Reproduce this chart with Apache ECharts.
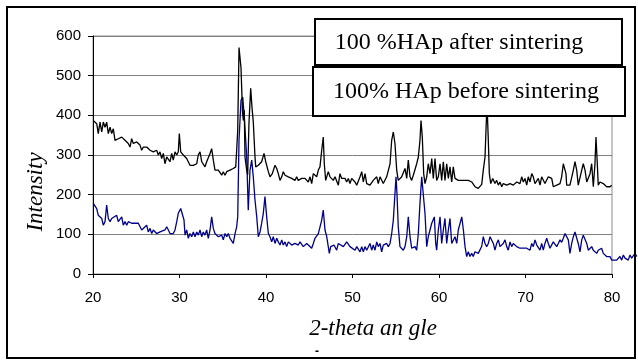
<!DOCTYPE html>
<html>
<head>
<meta charset="utf-8">
<script src="https://cdn.jsdelivr.net/npm/echarts@6/dist/echarts.min.js"></script>
<style>
html,body{margin:0;padding:0;background:#fff;}
#chart{width:638px;height:361px;}
</style>
</head>
<body>
<div id="chart"></div>
<script>
// ---- data (2-theta angle, intensity) ----
const afterAngle = [20.03,20.43,20.61,20.81,21.01,21.19,21.39,21.58,21.77,21.97,22.16,22.35,22.54,22.92,23.32,23.70,23.90,24.08,24.28,24.47,24.66,25.05,25.43,25.63,25.82,26.21,26.59,26.97,27.36,27.55,27.75,27.94,28.13,28.32,28.52,28.90,29.10,29.28,29.48,29.68,29.86,29.98,30.14,30.44,30.83,31.21,31.60,31.99,32.17,32.37,32.57,32.75,32.95,33.14,33.53,33.72,33.91,34.10,34.30,34.49,34.88,35.06,35.26,35.46,35.84,36.22,36.50,36.61,36.73,36.88,37.11,37.28,37.38,37.49,37.57,37.77,37.88,38.03,38.23,38.38,38.53,38.73,38.81,39.11,39.50,39.77,39.97,40.27,40.46,40.73,41.04,41.24,41.42,41.62,41.82,42.00,42.20,42.58,42.97,43.35,43.55,43.73,44.13,44.51,44.89,45.09,45.28,45.47,45.66,45.86,46.05,46.24,46.44,46.62,46.74,46.90,47.09,47.20,47.40,47.60,47.78,47.98,48.36,48.55,48.75,49.13,49.33,49.52,49.71,49.91,50.29,50.49,50.87,51.07,51.25,51.45,51.64,52.02,52.40,52.80,52.98,53.18,53.56,53.95,54.14,54.34,54.53,54.72,54.91,55.11,55.29,55.49,55.69,55.87,56.07,56.27,56.45,56.65,56.84,57.03,57.23,57.42,57.61,57.80,57.92,58.07,58.23,58.38,58.58,58.76,58.96,59.16,59.34,59.54,59.73,59.92,60.12,60.31,60.50,60.69,60.89,61.08,61.27,61.47,61.65,61.85,62.23,62.63,63.01,63.39,63.78,64.16,64.54,64.94,65.12,65.32,65.43,65.55,65.70,65.82,65.98,66.21,66.47,66.67,66.86,67.05,67.25,67.43,67.83,68.21,68.59,68.98,69.36,69.56,69.75,69.94,70.14,70.32,70.52,70.72,70.90,71.10,71.30,71.48,71.68,71.87,72.25,72.64,72.83,73.03,73.21,73.61,73.99,74.18,74.37,74.57,74.68,74.76,74.95,75.14,75.34,75.53,75.72,75.92,76.10,76.30,76.50,76.68,76.88,77.08,77.26,77.46,77.65,77.84,78.03,78.15,78.30,78.41,78.61,78.99,79.38,79.77,79.97];
const afterIntensity = [387,379,354,383,358,383,370,383,354,370,354,366,337,341,345,337,341,329,320,341,329,333,325,312,320,320,312,308,312,300,308,291,304,278,295,283,304,287,308,300,308,354,308,300,291,274,274,278,300,308,283,278,270,283,304,316,287,262,258,262,249,258,249,258,262,266,270,312,362,571,520,410,387,413,295,262,250,380,468,420,383,295,270,274,283,304,283,258,245,253,274,266,253,236,245,258,249,245,241,236,245,236,241,241,232,245,228,253,258,245,262,270,312,345,278,236,241,258,245,249,236,245,224,253,241,241,232,241,228,241,232,224,245,258,232,253,228,224,236,245,228,245,228,245,241,278,337,358,329,262,236,232,245,241,266,241,287,245,236,249,245,278,295,337,387,345,253,228,245,278,253,291,241,291,236,245,278,236,283,236,278,241,270,232,270,241,236,236,236,236,232,220,216,226,262,295,362,430,337,253,228,241,228,236,224,232,220,228,224,228,224,232,228,245,232,241,224,245,232,253,245,228,224,241,224,245,228,245,249,241,220,224,228,245,278,283,253,224,220,224,228,262,283,262,224,228,262,278,262,232,228,253,278,220,278,345,278,224,232,228,220,220,224];

const beforeAngle = [20.03,20.43,20.61,21.01,21.19,21.39,21.58,21.77,21.97,22.16,22.35,22.74,22.92,23.32,23.50,23.70,23.90,24.08,24.47,25.24,25.43,25.63,25.82,26.21,26.39,26.59,26.79,26.97,27.36,27.75,27.94,28.32,28.52,28.71,28.90,29.10,29.28,29.48,29.68,29.86,30.14,30.37,30.52,30.64,30.83,31.02,31.21,31.41,31.60,31.79,31.99,32.17,32.37,32.57,32.75,32.95,33.14,33.33,33.53,33.72,33.91,34.10,34.49,34.68,34.88,35.06,35.26,35.46,35.64,35.84,36.03,36.22,36.42,36.61,36.73,36.88,37.11,37.31,37.49,37.77,37.95,38.15,38.35,38.53,38.73,38.93,39.11,39.31,39.50,39.69,39.88,40.08,40.27,40.46,40.66,40.84,41.04,41.24,41.42,41.62,41.82,42.00,42.20,42.39,42.58,42.97,43.35,43.73,43.93,44.31,44.71,44.89,45.28,45.47,45.66,45.86,46.05,46.24,46.44,46.62,46.82,47.02,47.20,47.32,47.48,47.67,47.86,48.17,48.36,48.55,48.94,49.33,49.52,49.71,49.91,50.29,50.49,50.87,51.07,51.25,51.45,51.64,52.02,52.22,52.40,52.60,52.80,52.98,53.18,53.37,53.56,53.95,54.14,54.34,54.53,54.72,54.91,55.03,55.14,55.29,55.49,55.87,56.07,56.27,56.45,56.65,56.84,57.23,57.42,57.61,57.80,58.00,58.18,58.38,58.58,58.76,58.96,59.16,59.46,59.62,59.73,59.92,60.12,60.31,60.50,60.69,60.89,61.08,61.27,61.47,61.85,62.05,62.23,62.63,62.82,63.01,63.20,63.39,63.58,63.78,63.96,64.16,64.54,64.94,65.12,65.32,65.51,65.70,65.90,66.09,66.28,66.47,66.67,66.86,67.05,67.25,67.43,67.63,67.83,68.01,68.21,68.40,68.59,68.98,69.36,69.75,70.14,70.52,70.72,70.90,71.10,71.30,71.48,71.68,71.87,72.06,72.25,72.45,72.64,72.83,73.21,73.61,73.79,73.99,74.18,74.37,74.57,74.76,74.95,75.14,75.34,75.53,75.72,75.92,76.10,76.30,76.50,76.68,76.88,77.08,77.26,77.46,77.65,77.84,78.03,78.23,78.41,78.61,78.80,78.99,79.19,79.38,79.57,79.77,79.97,80.16,80.54,80.92,81.12,81.31,81.50,81.70,81.88,82.08,82.27,82.47,82.66,82.86];
const beforeIntensity = [178,165,148,140,123,132,174,140,132,140,136,148,132,144,123,132,123,132,128,128,132,111,115,123,106,115,102,111,102,106,102,111,119,111,102,98,102,111,132,153,165,161,136,98,111,90,102,94,106,94,106,98,111,94,106,98,111,90,111,144,115,102,94,90,98,86,102,94,102,90,94,77,102,119,144,337,438,446,396,295,161,262,287,245,186,144,94,106,128,153,195,144,102,94,81,94,77,90,81,73,86,73,81,69,81,73,77,73,81,69,77,73,65,77,90,94,102,102,136,161,111,94,69,52,69,65,73,60,77,77,69,81,81,69,73,60,69,56,69,56,69,60,77,60,73,60,81,69,77,56,73,77,69,77,102,136,203,245,203,119,69,60,69,94,144,94,65,69,60,102,178,245,245,153,69,94,111,128,144,77,60,111,144,77,111,140,77,111,140,77,94,77,111,144,111,69,44,56,44,52,44,56,52,70,94,77,69,77,94,94,77,60,77,86,69,65,77,86,69,60,81,69,77,69,65,65,65,60,77,69,86,73,77,60,77,60,77,90,77,65,81,69,77,86,80,90,102,106,86,52,77,94,106,111,77,56,86,98,94,77,60,56,69,60,65,52,60,56,65,52,48,44,40,44,35,40,35,44,35,48,40,44,35,48,40,44,52,44];

const xTicks = {min: 20, max: 80, interval: 10};
const xOverflowMax = 83;   // the "before" trace runs past the axis end
const yTicks = {min: 0, max: 600, interval: 100};
const legendLabels = ['100 %HAp after sintering', '100% HAp before sintering'];
const xTitle = '2-theta an gle';
const yTitle = 'Intensity';

const zip = (a, b) => a.map((v, i) => [v, b[i]]);

const gridLeft = 93, gridTop = 36, gridWidth = 519, gridHeight = 238;
const pxPerUnit = gridWidth / (xTicks.max - xTicks.min);

const chart = echarts.init(document.getElementById('chart'), null, {renderer: 'canvas'});
chart.setOption({
  animation: false,
  backgroundColor: '#fff',
  grid: [
    {left: gridLeft, top: gridTop, width: gridWidth, height: gridHeight, show: true, borderColor: '#8c8c8c', borderWidth: 1},
    {left: gridLeft, top: gridTop, width: pxPerUnit * (xOverflowMax - xTicks.min), height: gridHeight, show: false}
  ],
  xAxis: [{
    type: 'value', gridIndex: 0, min: xTicks.min, max: xTicks.max, interval: xTicks.interval,
    axisLine: {show: true, onZero: false, lineStyle: {color: '#000', width: 1}},
    axisTick: {show: true, length: 4, lineStyle: {color: '#000'}},
    axisLabel: {color: '#000', fontSize: 15, fontFamily: 'Liberation Sans, Arial', margin: 16},
    splitLine: {show: false}
  }, {
    type: 'value', gridIndex: 1, min: xTicks.min, max: xOverflowMax, show: false
  }],
  yAxis: [{
    type: 'value', gridIndex: 0, min: yTicks.min, max: yTicks.max, interval: yTicks.interval,
    axisLine: {show: true, lineStyle: {color: '#000', width: 1}},
    axisTick: {show: true, length: 5, lineStyle: {color: '#000'}},
    axisLabel: {color: '#000', fontSize: 15, fontFamily: 'Liberation Sans, Arial', margin: 12},
    splitLine: {show: true, lineStyle: {color: '#808080', width: 1}}
  }, {
    type: 'value', gridIndex: 1, min: yTicks.min, max: yTicks.max, show: false
  }],
  series: [
    {name: legendLabels[0], type: 'line', xAxisIndex: 0, yAxisIndex: 0,
     data: zip(afterAngle, afterIntensity), symbol: 'none', clip: false,
     lineStyle: {color: '#000', width: 1.3}, z: 3},
    {name: legendLabels[1], type: 'line', xAxisIndex: 1, yAxisIndex: 1,
     data: zip(beforeAngle, beforeIntensity), symbol: 'none', clip: false,
     lineStyle: {color: '#00008b', width: 1.3}, z: 2}
  ],
  graphic: [
    {type: 'rect', z: 100, shape: {x: 315, y: 19, width: 307, height: 46},
     style: {fill: '#fff', stroke: '#000', lineWidth: 2}},
    {type: 'text', z: 101, x: 459, y: 43,
     style: {text: legendLabels[0], font: '24px "Liberation Serif", "Times New Roman", serif', fill: '#000', textAlign: 'center', textVerticalAlign: 'middle'}},
    {type: 'rect', z: 100, shape: {x: 313, y: 67, width: 312, height: 49},
     style: {fill: '#fff', stroke: '#000', lineWidth: 2}},
    {type: 'text', z: 101, x: 466, y: 92,
     style: {text: legendLabels[1], font: '24px "Liberation Serif", "Times New Roman", serif', fill: '#000', textAlign: 'center', textVerticalAlign: 'middle'}},
    {type: 'text', z: 101, x: 373, y: 329,
     style: {text: xTitle, font: 'italic 23px "Liberation Serif", "Times New Roman", serif', fill: '#000', textAlign: 'center', textVerticalAlign: 'middle'}},
    {type: 'text', z: 101, x: 317, y: 352,
     style: {text: '-', font: 'bold 12px "Liberation Sans", Arial', fill: '#000', textAlign: 'center', textVerticalAlign: 'middle'}},
    {type: 'text', z: 101, x: 36, y: 192, rotation: Math.PI / 2,
     style: {text: yTitle, font: 'italic 23px "Liberation Serif", "Times New Roman", serif', fill: '#000', textAlign: 'center', textVerticalAlign: 'middle'}},
    {type: 'rect', z: 102, shape: {x: 7, y: 7, width: 628, height: 351},
     style: {fill: 'none', stroke: '#000', lineWidth: 2}}
  ]
});
</script>
</body>
</html>
